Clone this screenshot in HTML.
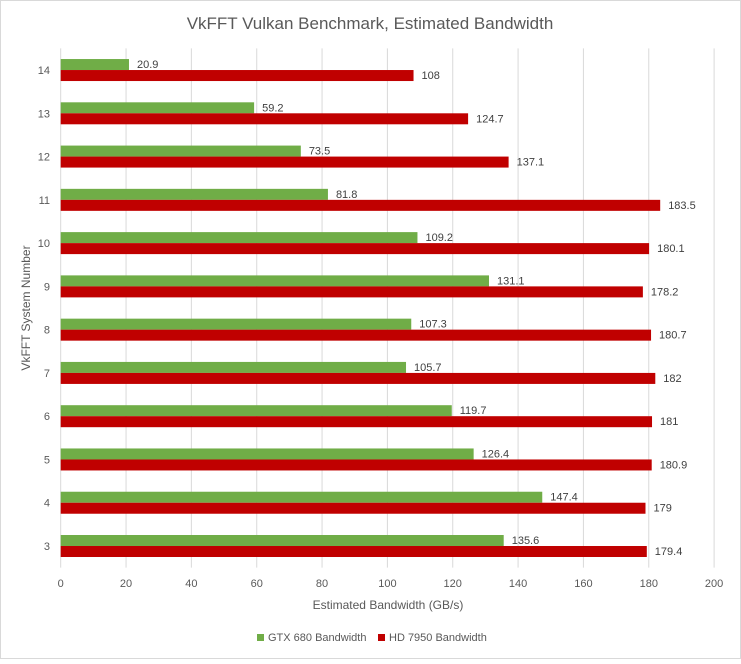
<!DOCTYPE html>
<html><head><meta charset="utf-8"><style>
body{margin:0;background:#fff;font-family:"Liberation Sans",sans-serif}
svg text{font-family:"Liberation Sans",sans-serif}
</style></head><body>
<svg width="741" height="659">
<rect x="0.5" y="0.5" width="740" height="658" fill="#fff" stroke="#d9d9d9"/>
<text x="370" y="29" text-anchor="middle" font-size="17" fill="#595959">VkFFT Vulkan Benchmark, Estimated Bandwidth</text>
<g id="grid"></g><g id="bars"></g><g id="labels"></g>
<text x="388" y="609" text-anchor="middle" font-size="12" fill="#595959">Estimated Bandwidth (GB/s)</text>
<text transform="translate(30,308) rotate(-90)" text-anchor="middle" font-size="12" fill="#595959">VkFFT System Number</text>
<g>
<rect x="257" y="634" width="7" height="7" fill="#70ad47"/>
<text x="268" y="641" font-size="11" fill="#595959">GTX 680 Bandwidth</text>
<rect x="378" y="634" width="7" height="7" fill="#c00000"/>
<text x="389" y="641" font-size="11" fill="#595959">HD 7950 Bandwidth</text>
</g>
</svg>
<script>
const categories=[14,13,12,11,10,9,8,7,6,5,4,3];
const gtx680=[20.9,59.2,73.5,81.8,109.2,131.1,107.3,105.7,119.7,126.4,147.4,135.6];
const hd7950=[108,124.7,137.1,183.5,180.1,178.2,180.7,182,181,180.9,179,179.4];
const xTicks=[0,20,40,60,80,100,120,140,160,180,200];
const NS="http://www.w3.org/2000/svg";
const x0=60.7,xs=3.267,plotTop=48.4,band=43.27,bh=11;
const X=v=>x0+v*xs;
function mk(t,a,p,txt){const e=document.createElementNS(NS,t);for(const k in a)e.setAttribute(k,a[k]);if(txt!==undefined)e.textContent=txt;p.appendChild(e);return e;}
const g=document.getElementById('grid'),b=document.getElementById('bars'),l=document.getElementById('labels');
xTicks.forEach(t=>{
 const ln=mk('line',{x1:X(t),x2:X(t),y1:plotTop,y2:plotTop+band*categories.length,stroke:'#d9d9d9','stroke-width':1},g);
 
 
 const tx=mk('text',{x:X(t),y:587,'text-anchor':'middle','font-size':11,fill:'#595959'},l,t);
 
 
});
categories.forEach((c,i)=>{
 const cy=plotTop+band*(i+0.5);
 const yt=mk('text',{x:50,y:cy+4,'text-anchor':'end','font-size':11,fill:'#595959'},l,c);
 
 
 const r1=mk('rect',{x:X(0),y:cy-bh,width:X(gtx680[i])-X(0),height:bh,fill:'#70ad47'},b);
 
 
 const r2=mk('rect',{x:X(0),y:cy,width:X(hd7950[i])-X(0),height:bh,fill:'#c00000'},b);
 
 
 const t1=mk('text',{x:X(gtx680[i])+8,y:cy-2,'font-size':11,fill:'#404040'},l,gtx680[i]);
 
 
 const t2=mk('text',{x:X(hd7950[i])+8,y:cy+9,'font-size':11,fill:'#404040'},l,hd7950[i]);
 
 
});
</script>
</body></html>
